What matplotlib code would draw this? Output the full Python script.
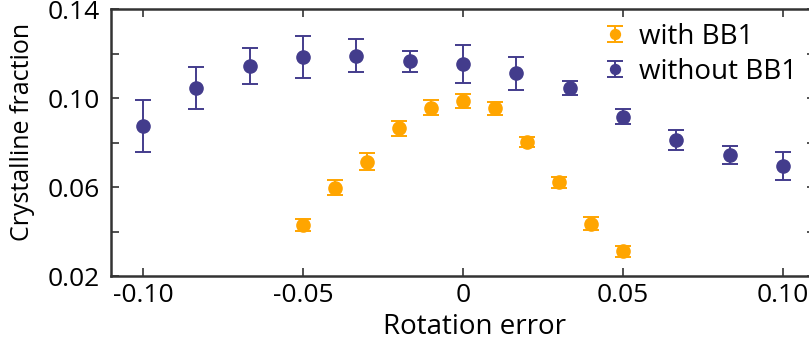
import numpy as np
import matplotlib
matplotlib.use("Agg")
import matplotlib.pyplot as plt
from matplotlib.container import ErrorbarContainer
from matplotlib.legend_handler import HandlerErrorbar

plt.rcParams['font.family'] = ['Open Sans', 'DejaVu Sans']

# rotation error values
x_without = [-0.1, -0.0833, -0.0667, -0.05, -0.0333, -0.0167, 0.0,
             0.0167, 0.0333, 0.05, 0.0667, 0.0833, 0.1]
y_without = [0.0873, 0.1045, 0.1145, 0.1183, 0.1190, 0.1166, 0.1151,
             0.1111, 0.1044, 0.0916, 0.0811, 0.0744, 0.0696]
e_without = [0.0116, 0.0095, 0.0080, 0.0094, 0.0075, 0.0047, 0.0085,
             0.0073, 0.0032, 0.0034, 0.0045, 0.0040, 0.0063]

x_with = [-0.05, -0.04, -0.03, -0.02, -0.01, 0.0, 0.01, 0.02, 0.03, 0.04, 0.05]
y_with = [0.0429, 0.0597, 0.0714, 0.0864, 0.0956, 0.0987, 0.0954,
          0.0804, 0.0621, 0.0434, 0.0311]
e_with = [0.0027, 0.0035, 0.0039, 0.0033, 0.0034, 0.0032, 0.0030,
          0.0022, 0.0025, 0.0029, 0.0025]

orange = '#FFA500'
purple = '#433C8C'

fig = plt.figure(figsize=(8.09, 3.49), dpi=100)
ax = fig.add_axes([111/809, 73/349, 704/809, 267/349])

ax.errorbar(x_with, y_with, yerr=e_with, fmt='o', color=orange, ms=9.5,
            capsize=6, elinewidth=1.4, capthick=1.4, label='with BB1')
ax.errorbar(x_without, y_without, yerr=e_without, fmt='o', color=purple, ms=9.5,
            capsize=6, elinewidth=1.4, capthick=1.4, label='without BB1')

ax.set_xlim(-0.11, 0.11)
ax.set_ylim(0.02, 0.14)
ax.set_xticks([-0.10, -0.05, 0, 0.05, 0.10])
ax.set_xticklabels(['-0.10', '-0.05', '0', '0.05', '0.10'])
ax.set_yticks([0.02, 0.04, 0.06, 0.08, 0.10, 0.12, 0.14])
ax.set_yticklabels(['0.02', '', '0.06', '', '0.10', '', '0.14'])

ax.tick_params(direction='in', length=6, width=1.2, colors='#333333',
               labelcolor='black', labelsize=19, top=True, right=True)
ax.tick_params(axis='x', pad=5)
ax.tick_params(axis='y', pad=8)
for s in ax.spines.values():
    s.set_linewidth(1.8)
    s.set_color('#333333')

ax.set_xlabel('Rotation error', fontsize=20)
ax.xaxis.set_label_coords(0.517, -0.14)
ax.set_ylabel('Crystalline fraction', fontsize=18)
ax.yaxis.set_label_coords(-0.108, 0.54)

ax.legend(loc='upper left', bbox_to_anchor=(0.687, 0.99), frameon=False,
          fontsize=20, handlelength=0.7, handletextpad=0.5, labelspacing=0.25,
          borderaxespad=0, markerscale=0.75,
          handler_map={ErrorbarContainer: HandlerErrorbar(yerr_size=0.3)})

fig.savefig('out.png', dpi=100)
